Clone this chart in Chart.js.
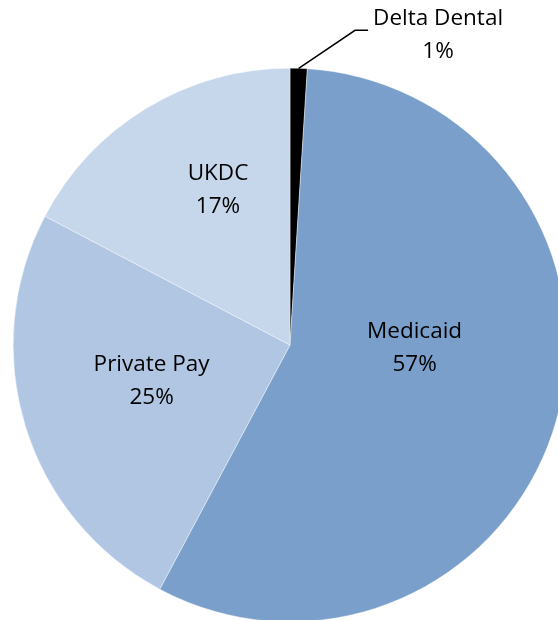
<!DOCTYPE html>
<html>
<head>
<meta charset="utf-8">
<script src="https://cdn.jsdelivr.net/npm/chart.js@4.4.0/dist/chart.umd.min.js"></script>
<style>
    html, body { margin: 0; padding: 0; background: #fff; overflow: hidden; }
    #wrap { position: relative; width: 580px; height: 690px; }
</style>
</head>
<body>
<div id="wrap"><canvas id="graficoPizza"></canvas></div>
<script>
// Dados do gráfico
const categorias = ['Delta Dental', 'Medicaid', 'Private Pay', 'UKDC'];
const valores = [1.0, 56.8, 24.9, 17.3];
const rotulosPercentuais = ['1%', '57%', '25%', '17%'];
const cores = ['#000000', '#7A9FCB', '#B0C6E2', '#C6D6EB'];

// Posição dos rótulos em frações do raio (relativo ao centro)
const posicaoRotulos = [[0.535, -1.12], [0.45, 0.01], [-0.50, 0.13], [-0.26, -0.56]];

const pluginRotulos = {
    id: 'rotulos',
    afterDraw(chart) {
        const ctx = chart.ctx;
        const arcos = chart.getDatasetMeta(0).data;
        const cx = arcos[0].x, cy = arcos[0].y, r = arcos[0].outerRadius;
        ctx.save();
        ctx.font = '22.5px "Open Sans", sans-serif';
        ctx.fillStyle = '#000';
        ctx.textAlign = 'center';
        ctx.textBaseline = 'middle';
        categorias.forEach((nome, i) => {
            const x = cx + posicaoRotulos[i][0] * r;
            const y = cy + posicaoRotulos[i][1] * r;
            ctx.fillText(nome, x, y - 16);
            ctx.fillText(rotulosPercentuais[i], x, y + 17);
        });
        // linha de chamada para Delta Dental
        const a = arcos[0];
        const meio = (a.startAngle + a.endAngle) / 2;
        const px = cx + Math.cos(meio) * r, py = cy + Math.sin(meio) * r;
        ctx.strokeStyle = '#000';
        ctx.lineWidth = 1.5;
        ctx.beginPath();
        ctx.moveTo(px, py);
        ctx.lineTo(cx + 0.235 * r, cy - 1.137 * r);
        ctx.lineTo(cx + 0.282 * r, cy - 1.137 * r);
        ctx.stroke();
        ctx.restore();
    }
};

new Chart(document.getElementById('graficoPizza'), {
    type: 'pie',
    data: {
        labels: categorias,
        datasets: [{
            data: valores,
            backgroundColor: cores,
            borderColor: '#ffffff',
            borderWidth: 0.4
        }]
    },
    options: {
        responsive: true,
        maintainAspectRatio: false,
        animation: false,
        layout: { padding: { top: 68, left: 13, right: 13, bottom: 68 } },
        plugins: {
            legend: { display: false },
            tooltip: { enabled: false }
        }
    },
    plugins: [pluginRotulos]
});
</script>
</body>
</html>
